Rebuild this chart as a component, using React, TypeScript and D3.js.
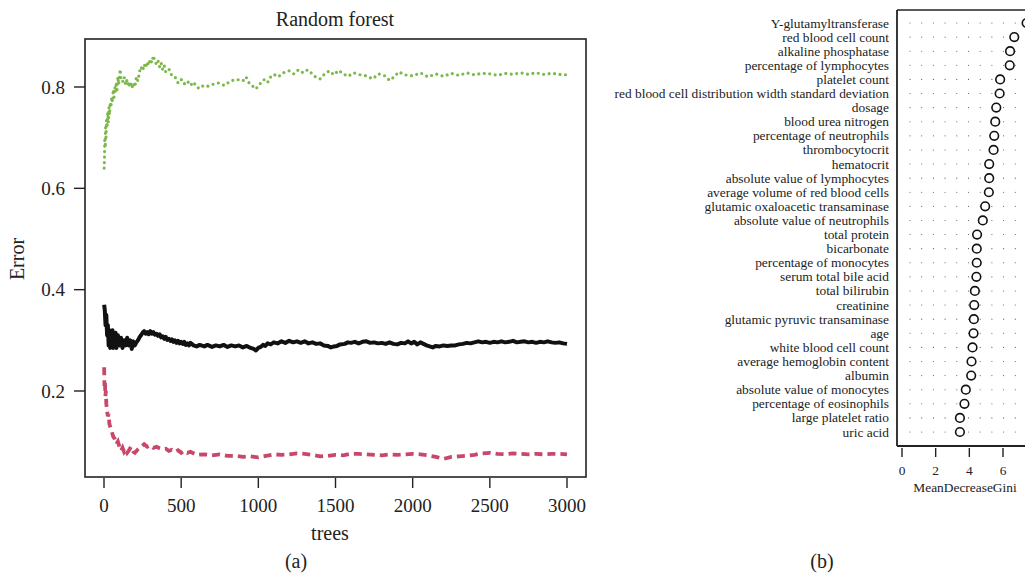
import React from "react";
import * as d3 from "d3";

// ---- Panel (a): Random forest error vs trees ----
const xTicksA = [0, 500, 1000, 1500, 2000, 2500, 3000];
const yTicksA = [0.2, 0.4, 0.6, 0.8];

const oobError: [number, number][] = [
  [1, 0.37], [5, 0.36], [10, 0.33], [15, 0.35], [20, 0.31], [25, 0.33], [30, 0.29], [35, 0.32],
  [40, 0.285], [45, 0.31], [50, 0.29], [55, 0.32], [60, 0.285], [65, 0.31], [70, 0.29], [75, 0.315],
  [80, 0.285], [90, 0.31], [100, 0.29], [110, 0.305], [120, 0.285], [130, 0.3], [140, 0.29],
  [150, 0.305], [160, 0.29], [170, 0.3], [180, 0.283], [190, 0.298], [200, 0.29], [210, 0.296],
  [220, 0.3], [230, 0.306], [240, 0.31], [250, 0.315], [260, 0.318], [270, 0.313], [280, 0.316],
  [290, 0.312], [300, 0.318], [310, 0.313], [320, 0.316], [330, 0.311], [340, 0.313], [350, 0.309],
  [360, 0.312], [370, 0.306], [380, 0.308], [390, 0.303], [400, 0.307], [410, 0.301], [420, 0.303],
  [430, 0.299], [440, 0.302], [450, 0.297], [460, 0.3], [470, 0.295], [480, 0.299], [490, 0.294],
  [500, 0.297], [510, 0.293], [520, 0.297], [530, 0.291], [540, 0.294], [550, 0.29], [560, 0.295],
  [580, 0.29], [600, 0.288], [620, 0.291], [650, 0.288], [670, 0.291], [700, 0.287], [725, 0.29],
  [750, 0.288], [775, 0.291], [800, 0.287], [825, 0.29], [850, 0.288], [875, 0.29], [900, 0.286],
  [925, 0.289], [950, 0.285], [970, 0.283], [985, 0.28], [1000, 0.285], [1015, 0.287],
  [1030, 0.291], [1045, 0.289], [1060, 0.294], [1080, 0.292], [1100, 0.296], [1125, 0.294],
  [1150, 0.298], [1175, 0.295], [1200, 0.299], [1225, 0.296], [1250, 0.298], [1275, 0.295],
  [1300, 0.298], [1325, 0.294], [1350, 0.296], [1375, 0.293], [1400, 0.294], [1425, 0.29],
  [1450, 0.289], [1470, 0.286], [1490, 0.288], [1510, 0.289], [1530, 0.292], [1560, 0.293],
  [1580, 0.296], [1600, 0.295], [1625, 0.297], [1650, 0.294], [1675, 0.297], [1700, 0.298],
  [1725, 0.295], [1750, 0.296], [1775, 0.294], [1800, 0.295], [1825, 0.293], [1850, 0.296],
  [1875, 0.293], [1900, 0.292], [1925, 0.295], [1950, 0.294], [1970, 0.298], [1990, 0.294],
  [2010, 0.297], [2030, 0.292], [2050, 0.296], [2070, 0.293], [2090, 0.29], [2110, 0.288],
  [2130, 0.286], [2150, 0.289], [2175, 0.288], [2200, 0.29], [2225, 0.289], [2250, 0.29],
  [2275, 0.29], [2300, 0.292], [2325, 0.293], [2350, 0.295], [2375, 0.294], [2400, 0.296],
  [2425, 0.298], [2450, 0.296], [2475, 0.297], [2500, 0.295], [2525, 0.297], [2550, 0.296],
  [2575, 0.298], [2600, 0.296], [2625, 0.297], [2650, 0.299], [2675, 0.296], [2700, 0.297],
  [2725, 0.298], [2750, 0.296], [2775, 0.297], [2800, 0.295], [2825, 0.297], [2850, 0.296],
  [2875, 0.298], [2900, 0.296], [2925, 0.295], [2950, 0.296], [2975, 0.294], [3000, 0.293],
];

const class1Error: [number, number][] = [
  [1, 0.247], [3, 0.21], [6, 0.22], [9, 0.19], [12, 0.2], [15, 0.175], [20, 0.16], [25, 0.15],
  [30, 0.155], [35, 0.135], [40, 0.13], [50, 0.12], [60, 0.11], [70, 0.105], [80, 0.095],
  [90, 0.1], [100, 0.09], [110, 0.082], [120, 0.088], [130, 0.08], [140, 0.085], [150, 0.078],
  [160, 0.082], [175, 0.09], [190, 0.08], [200, 0.078], [220, 0.085], [240, 0.09], [260, 0.095],
  [280, 0.09], [300, 0.093], [320, 0.088], [340, 0.09], [360, 0.087], [380, 0.085], [400, 0.086],
  [420, 0.082], [440, 0.084], [460, 0.08], [480, 0.083], [500, 0.078], [520, 0.082], [540, 0.078],
  [560, 0.08], [600, 0.074], [650, 0.075], [700, 0.073], [750, 0.075], [800, 0.072], [850, 0.072],
  [900, 0.07], [950, 0.071], [1000, 0.069], [1050, 0.072], [1100, 0.075], [1150, 0.074],
  [1200, 0.075], [1250, 0.077], [1300, 0.076], [1350, 0.074], [1400, 0.071], [1450, 0.072],
  [1500, 0.074], [1550, 0.073], [1600, 0.076], [1650, 0.076], [1700, 0.075], [1750, 0.074],
  [1800, 0.073], [1850, 0.075], [1900, 0.074], [1950, 0.075], [2000, 0.076], [2050, 0.075],
  [2100, 0.073], [2150, 0.07], [2200, 0.066], [2250, 0.07], [2300, 0.071], [2350, 0.072],
  [2400, 0.074], [2450, 0.077], [2500, 0.078], [2550, 0.076], [2600, 0.075], [2650, 0.077],
  [2700, 0.076], [2750, 0.075], [2800, 0.076], [2850, 0.075], [2900, 0.076], [2950, 0.076],
  [3000, 0.075],
];

const class2Error: [number, number][] = [
  [1, 0.64], [3, 0.66], [5, 0.7], [8, 0.68], [10, 0.72], [13, 0.7], [16, 0.735], [20, 0.72],
  [24, 0.75], [28, 0.73], [32, 0.76], [36, 0.745], [40, 0.77], [45, 0.76], [50, 0.78], [55, 0.77],
  [60, 0.795], [65, 0.78], [70, 0.8], [75, 0.79], [80, 0.81], [85, 0.795], [90, 0.82], [95, 0.805],
  [100, 0.82], [105, 0.835], [110, 0.815], [120, 0.81], [130, 0.82], [140, 0.805], [150, 0.815],
  [160, 0.8], [170, 0.81], [180, 0.798], [190, 0.808], [200, 0.8], [210, 0.82], [220, 0.812],
  [230, 0.83], [240, 0.84], [250, 0.832], [260, 0.845], [270, 0.838], [280, 0.85], [290, 0.843],
  [300, 0.855], [310, 0.848], [320, 0.862], [330, 0.85], [340, 0.845], [350, 0.852], [360, 0.84],
  [370, 0.848], [380, 0.835], [390, 0.843], [400, 0.83], [420, 0.836], [440, 0.822], [460, 0.82],
  [480, 0.808], [500, 0.815], [520, 0.806], [540, 0.812], [560, 0.803], [580, 0.81], [600, 0.8],
  [620, 0.797], [640, 0.802], [660, 0.8], [700, 0.805], [740, 0.808], [780, 0.803], [820, 0.812],
  [860, 0.815], [900, 0.812], [920, 0.82], [940, 0.808], [960, 0.803], [980, 0.796], [1000, 0.801],
  [1020, 0.81], [1040, 0.815], [1060, 0.809], [1080, 0.82], [1100, 0.825], [1130, 0.82],
  [1160, 0.828], [1200, 0.832], [1230, 0.826], [1260, 0.834], [1290, 0.828], [1320, 0.834],
  [1350, 0.826], [1370, 0.82], [1400, 0.816], [1430, 0.826], [1460, 0.832], [1490, 0.824],
  [1520, 0.833], [1550, 0.826], [1580, 0.821], [1620, 0.828], [1660, 0.824], [1700, 0.822],
  [1740, 0.816], [1780, 0.826], [1820, 0.822], [1850, 0.813], [1880, 0.82], [1910, 0.83],
  [1950, 0.824], [2000, 0.822], [2050, 0.828], [2100, 0.82], [2150, 0.826], [2200, 0.821],
  [2250, 0.827], [2300, 0.823], [2350, 0.828], [2400, 0.824], [2450, 0.827], [2500, 0.826],
  [2550, 0.823], [2600, 0.827], [2650, 0.825], [2700, 0.828], [2750, 0.825], [2800, 0.828],
  [2850, 0.825], [2900, 0.827], [2950, 0.825], [3000, 0.824],
];

// ---- Panel (b): variable importance ----
const features = [
  "Y-glutamyltransferase",
  "red blood cell count",
  "alkaline phosphatase",
  "percentage of lymphocytes",
  "platelet count",
  "red blood cell distribution width standard deviation",
  "dosage",
  "blood urea nitrogen",
  "percentage of neutrophils",
  "thrombocytocrit",
  "hematocrit",
  "absolute value of lymphocytes",
  "average volume of red blood cells",
  "glutamic oxaloacetic transaminase",
  "absolute value of neutrophils",
  "total protein",
  "bicarbonate",
  "percentage of monocytes",
  "serum total bile acid",
  "total bilirubin",
  "creatinine",
  "glutamic pyruvic transaminase",
  "age",
  "white blood cell count",
  "average hemoglobin content",
  "albumin",
  "absolute value of monocytes",
  "percentage of eosinophils",
  "large platelet ratio",
  "uric acid",
];
const meanDecreaseGini = [
  7.4, 6.67, 6.42, 6.4, 5.83, 5.8, 5.6, 5.54, 5.48, 5.44, 5.18, 5.18, 5.16, 4.94, 4.8, 4.46,
  4.44, 4.44, 4.42, 4.33, 4.29, 4.27, 4.25, 4.19, 4.13, 4.11, 3.79, 3.71, 3.44, 3.44,
];
const xTicksB = [0, 2, 4, 6];

const FONT = "'Liberation Serif', 'Times New Roman', serif";
const TXT = "#222";

export default function App() {
  // panel a
  const boxA = { l: 85, r: 586, t: 39, b: 477 };
  const xA = d3.scaleLinear().domain([0, 3000]).range([104, 567]);
  const yA = d3.scaleLinear().domain([0.2, 0.8]).range([391, 87]);
  const line = d3
    .line<[number, number]>()
    .x((d) => xA(d[0]))
    .y((d) => yA(d[1]));

  // panel b
  const boxB = { l: 897, r: 1040, t: 10, b: 446 };
  const xB = d3.scaleLinear().domain([0, 6]).range([902, 1003]);
  const yB = d3.scalePoint<string>().domain(features).range([23, 432]);

  return (
    <svg
      width={1025}
      height={583}
      style={{ position: "absolute", left: 0, top: 0, background: "#fff" }}
      fontFamily={FONT}
    >
      <rect x={0} y={0} width={1025} height={583} fill="#fff" />
      {/* ---------- Panel a ---------- */}
      <text x={335} y={26} textAnchor="middle" fontSize={20} fill={TXT}>
        Random forest
      </text>
      <path d={line(class2Error) || ""} fill="none" stroke="#7cb84a" strokeWidth={3.2}
        strokeLinecap="round" strokeDasharray="0 5.5" />
      <path d={line(class1Error) || ""} fill="none" stroke="#c8486c" strokeWidth={3.8}
        strokeDasharray="8 5" />
      <path d={line(oobError) || ""} fill="none" stroke="#111" strokeWidth={4}
        strokeLinejoin="round" />
      <rect x={boxA.l} y={boxA.t} width={boxA.r - boxA.l} height={boxA.b - boxA.t}
        fill="none" stroke="#222" strokeWidth={1.6} />
      {xTicksA.map((t) => (
        <g key={"xa" + t}>
          <line x1={xA(t)} x2={xA(t)} y1={boxA.b + 1} y2={boxA.b + 11} stroke="#222" strokeWidth={1.4} />
          <text x={xA(t)} y={512} textAnchor="middle" fontSize={19} fill={TXT}>
            {t}
          </text>
        </g>
      ))}
      {yTicksA.map((t) => (
        <g key={"ya" + t}>
          <line x1={boxA.l - 11} x2={boxA.l} y1={yA(t)} y2={yA(t)} stroke="#222" strokeWidth={1.4} />
          <text x={65} y={yA(t) + 6.5} textAnchor="end" fontSize={19} fill={TXT}>
            {t.toFixed(1)}
          </text>
        </g>
      ))}
      <text x={330} y={540} textAnchor="middle" fontSize={20} fill={TXT}>
        trees
      </text>
      <text transform="translate(24,259) rotate(-90)" textAnchor="middle" fontSize={20} fill={TXT}>
        Error
      </text>
      <text x={296} y={568} textAnchor="middle" fontSize={20} fill={TXT}>
        (a)
      </text>

      {/* ---------- Panel b ---------- */}
      {features.map((f, i) => (
        <g key={"f" + i}>
          <line x1={910} x2={1030} y1={yB(f)} y2={yB(f)} stroke="#555" strokeWidth={1.1}
            strokeLinecap="round" strokeDasharray="0 11.7" />
          <text x={889} y={(yB(f) || 0) + 4.5} textAnchor="end" fontSize={13.4} fill={TXT}>
            {f}
          </text>
          <circle cx={xB(meanDecreaseGini[i])} cy={yB(f)} r={4.3} fill="#fff" stroke="#111"
            strokeWidth={1.6} />
        </g>
      ))}
      <line x1={boxB.l} x2={boxB.l} y1={boxB.t} y2={boxB.b} stroke="#222" strokeWidth={1.8} />
      <line x1={boxB.l} x2={boxB.r} y1={boxB.t} y2={boxB.t} stroke="#222" strokeWidth={1.4} />
      <line x1={boxB.l} x2={boxB.r} y1={boxB.b} y2={boxB.b} stroke="#222" strokeWidth={1.8} />
      {xTicksB.map((t) => (
        <g key={"xb" + t}>
          <line x1={xB(t)} x2={xB(t)} y1={boxB.b + 2} y2={boxB.b + 11} stroke="#222" strokeWidth={1.4} />
          <text x={xB(t)} y={475} textAnchor="middle" fontSize={13.4} fill={TXT}>
            {t}
          </text>
        </g>
      ))}
      <text x={965} y={492} textAnchor="middle" fontSize={13.4} fill={TXT}>
        MeanDecreaseGini
      </text>
      <text x={822} y={568} textAnchor="middle" fontSize={20} fill={TXT}>
        (b)
      </text>
    </svg>
  );
}
